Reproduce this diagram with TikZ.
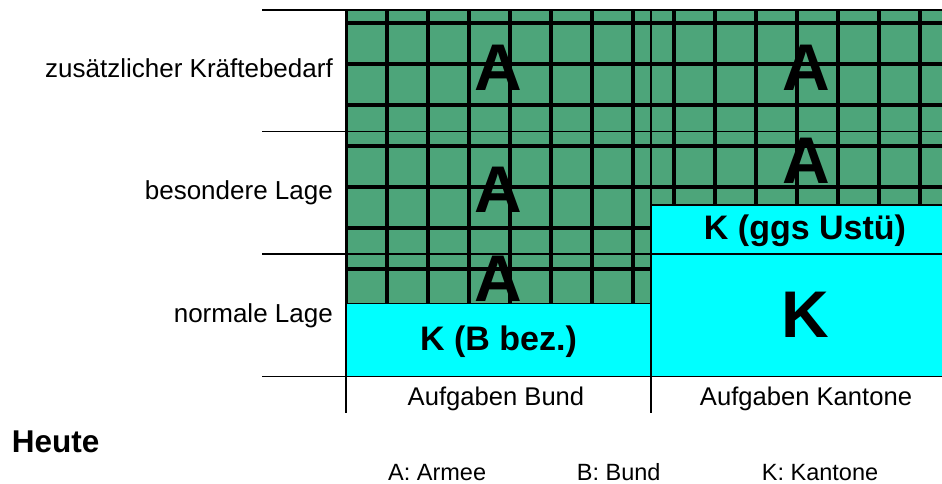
\documentclass[tikz,border=0pt]{standalone}
\usepackage{fontspec}
\setmainfont{Liberation Sans}
\definecolor{armygreen}{HTML}{4DA57A}
\definecolor{kantcyan}{HTML}{00FFFF}
\tikzset{
  rowlab/.style={anchor=base east, inner sep=0pt, font=\fontsize{26}{30}\selectfont},
  collab/.style={anchor=base, inner sep=0pt, font=\fontsize{25.6}{30}\selectfont},
  biglet/.style={anchor=base, inner sep=0pt, font=\fontsize{66}{70}\selectfont\bfseries},
  kboxtxt/.style={anchor=base, inner sep=0pt, font=\fontsize{34}{38}\selectfont\bfseries},
  legtxt/.style={anchor=base west, inner sep=0pt, font=\fontsize{23.5}{27}\selectfont},
  thinln/.style={line width=1.2pt, draw=black},
  gridln/.style={line width=4.3pt, draw=black},
}

\begin{document}
\begin{tikzpicture}[x=1pt, y=-1pt]
  \useasboundingbox (0,0) rectangle (942,484);
  % army share: green with the large grid
  \begin{scope}
    \clip (345,10) -- (942,10) -- (942,205) -- (651,205) -- (651,303.3)
      -- (345,303.3) -- cycle;
    \fill[armygreen] (345,10) rectangle (942,304);
    \foreach \i in {0,...,14}
      \draw[gridln] (345.7+41*\i,0) -- ++(0,320);
    \foreach \j in {0,...,6}
      \draw[gridln] (330,22.7+41*\j) -- ++(620,0);
  \end{scope}
  % cantons
  \fill[kantcyan] (346,303.3) rectangle (651,376.5);
  \fill[kantcyan] (651,205) rectangle (942,376.5);
  \draw[thinln] (346,303.3) -- (651,303.3);
  \draw[thinln] (651,205) -- (942,205);
  % rows and columns
  \foreach \y in {10,131.7,254,376.5}
    \draw[thinln] (262,\y) -- (942,\y);
  \draw[thinln] (346,303) -- (346,413);
  \draw[thinln] (651,10) -- (651,413);

  \node[rowlab] (zus) at (333,77.3) {zusätzlicher Kräftebedarf};
  \node[rowlab] (bes) at (333,199.5) {besondere Lage};
  \node[rowlab] (nor) at (333,322.7) {normale Lage};

  \node[biglet] (a1) at (498.5,90.7) {A};
  \node[biglet] (a2) at (498.5,212) {A};
  \node[biglet] (a3) at (498.5,301.7) {A};
  \node[biglet] (a4) at (806,90.7) {A};
  \node[biglet] (a5) at (806,183.3) {A};

  \node[kboxtxt] (kb) at (498.5,350) {K (B bez.)};
  \node[kboxtxt] (kg) at (805,239.3) {K (ggs Ustü)};
  \node[biglet] (kk) at (805.5,337) {K};

  \node[collab] (bund) at (496,405.7) {Aufgaben Bund};
  \node[collab] (kant) at (806,405.7) {Aufgaben Kantone};

  \node[anchor=base west, inner sep=0pt, font=\fontsize{31.5}{36}\selectfont\bfseries]
    (heute) at (11.7,452.3) {Heute};
  \node[legtxt] (lega) at (388,480.5) {A: Armee};
  \node[legtxt] (legb) at (576.7,480.5) {B: Bund};
  \node[legtxt] (legk) at (761.7,480.5) {K: Kantone};
\end{tikzpicture}
\end{document}
